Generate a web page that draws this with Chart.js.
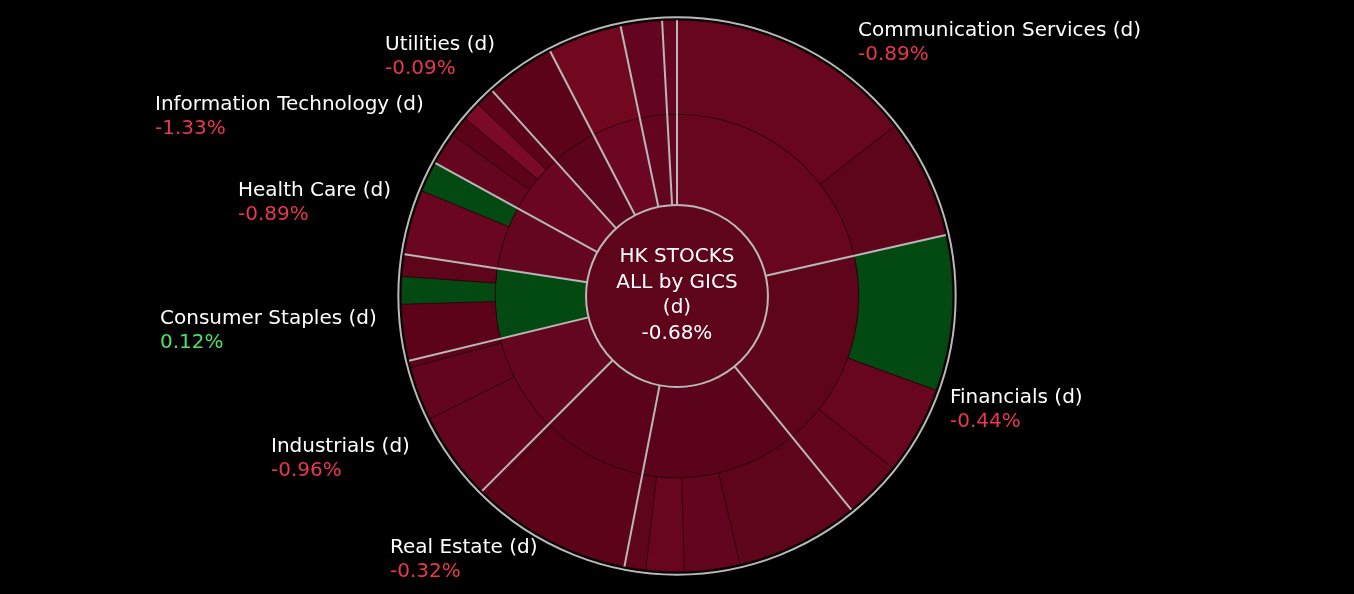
<!DOCTYPE html>
<html>
<head>
<meta charset="utf-8">
<script src="https://cdn.jsdelivr.net/npm/chart.js@4.4.1/dist/chart.umd.min.js"></script>
<style>
  html, body { margin: 0; padding: 0; background: #000; }
  #wrap { width: 1354px; height: 594px; position: relative; }
</style>
</head>
<body>
<div id="wrap"><canvas id="c"></canvas></div>
<script>
const sectors = ['Communication Services', 'Financials', 'Consumer Discretionary', 'Real Estate', 'Industrials',
  'Consumer Staples', 'Health Care', 'Information Technology', 'Utilities', 'Energy', 'Materials', 'Other'];
const sectorWeight = [77.2, 63.6, 50.2, 34, 31.4, 22.3, 20.1, 19.2, 14.6, 15.6, 8.7, 3.1];
const sectorColor = ['#680620', '#5e041b', '#5a031a', '#5a031a', '#650620', '#034a12',
  '#650620', '#6a0621', '#5c041b', '#6c0622', '#640520', '#640520'];

// outer ring (stocks), in sector order
const stockWeight = [52, 25.2,  32.8, 18.6, 12.2,  26, 11.7, 8, 4.5,  33, 1,  18.6, 11.4, 1.4,
  11.9, 5.8, 4.6,  13.7, 6.4,  6.9, 4.3, 4, 4,  14.6,  15.6,  8.7,  3.1];
const stockColor = ['#680620', '#5e041b',  '#034a12', '#68061f', '#62051d',  '#5e041b', '#640520', '#68061f', '#5e041b',
  '#5c031a', '#640520',  '#640520', '#640520', '#5c031a',  '#5c031a', '#034a12', '#5e041b',
  '#6a0621', '#034a12',  '#650620', '#5c031a', '#7a0a27', '#5c031a',  '#5c031a',  '#72081f', '#630520', '#650620'];

// labels shown on the chart
const labelNames = ['Communication Services (d)', 'Financials (d)', 'Real Estate (d)', 'Industrials (d)',
  'Consumer Staples (d)', 'Health Care (d)', 'Information Technology (d)', 'Utilities (d)'];
const labelPct = ['-0.89%', '-0.44%', '-0.32%', '-0.96%', '0.12%', '-0.89%', '-1.33%', '-0.09%'];
const labelPos = [[858, 21], [950, 388], [390, 538], [271, 437], [160, 309], [238, 181], [155, 95], [385, 35]];
const centerLines = ['HK STOCKS', 'ALL by GICS', '(d)', '-0.68%'];

const FONT = '"DejaVu Sans", sans-serif';

const sunburst = {
  id: 'sunburst',
  beforeDatasetsDraw(chart) {
    const mid = chart.getDatasetMeta(1).data[0];
    const ctx = chart.ctx;
    ctx.save();
    ctx.beginPath();
    ctx.arc(mid.x, mid.y, mid.innerRadius, 0, Math.PI * 2);
    ctx.fillStyle = '#5e051c';
    ctx.fill();
    ctx.restore();
  },
  afterDatasetsDraw(chart) {
    const ctx = chart.ctx;
    const midArcs = chart.getDatasetMeta(1).data;
    const outer = chart.getDatasetMeta(0).data[0];
    const cx = outer.x, cy = outer.y;
    const r0 = midArcs[0].innerRadius, r1 = outer.outerRadius;
    ctx.save();
    ctx.strokeStyle = '#b8b8b8';
    ctx.lineWidth = 2;
    midArcs.forEach(a => {
      const t = a.startAngle;
      ctx.beginPath();
      ctx.moveTo(cx + Math.cos(t) * r0, cy + Math.sin(t) * r0);
      ctx.lineTo(cx + Math.cos(t) * r1, cy + Math.sin(t) * r1);
      ctx.stroke();
    });
    ctx.beginPath();
    ctx.arc(cx, cy, r0, 0, Math.PI * 2);
    ctx.stroke();
    ctx.beginPath();
    ctx.arc(cx, cy, r1 + 3, 0, Math.PI * 2);
    ctx.stroke();

    // centre text
    ctx.fillStyle = '#ffffff';
    ctx.font = '20px ' + FONT;
    ctx.textAlign = 'center';
    ctx.textBaseline = 'middle';
    centerLines.forEach((s, i) => ctx.fillText(s, cx, cy - 39 + i * 25.5));

    // sector labels
    ctx.textAlign = 'left';
    ctx.textBaseline = 'top';
    labelNames.forEach((s, i) => {
      const [x, y] = labelPos[i];
      ctx.fillStyle = '#ffffff';
      ctx.fillText(s, x, y);
      ctx.fillStyle = labelPct[i].startsWith('-') ? '#e8374f' : '#4ee06a';
      ctx.fillText(labelPct[i], x, y + 24);
    });
    ctx.restore();
  }
};

new Chart(document.getElementById('c'), {
  type: 'doughnut',
  data: {
    labels: stockWeight.map((_, i) => 's' + i),
    datasets: [
      { data: stockWeight, backgroundColor: stockColor, borderColor: '#2a0008', borderWidth: 0.7, weight: 94 },
      { data: sectorWeight, backgroundColor: sectorColor, borderColor: '#2a0008', borderWidth: 0.7, weight: 91 }
    ]
  },
  options: {
    responsive: true,
    maintainAspectRatio: false,
    animation: false,
    cutout: '33%',
    layout: { padding: { top: 20, bottom: 22 } },
    plugins: { legend: { display: false }, tooltip: { enabled: false } }
  },
  plugins: [sunburst]
});
</script>
</body>
</html>
